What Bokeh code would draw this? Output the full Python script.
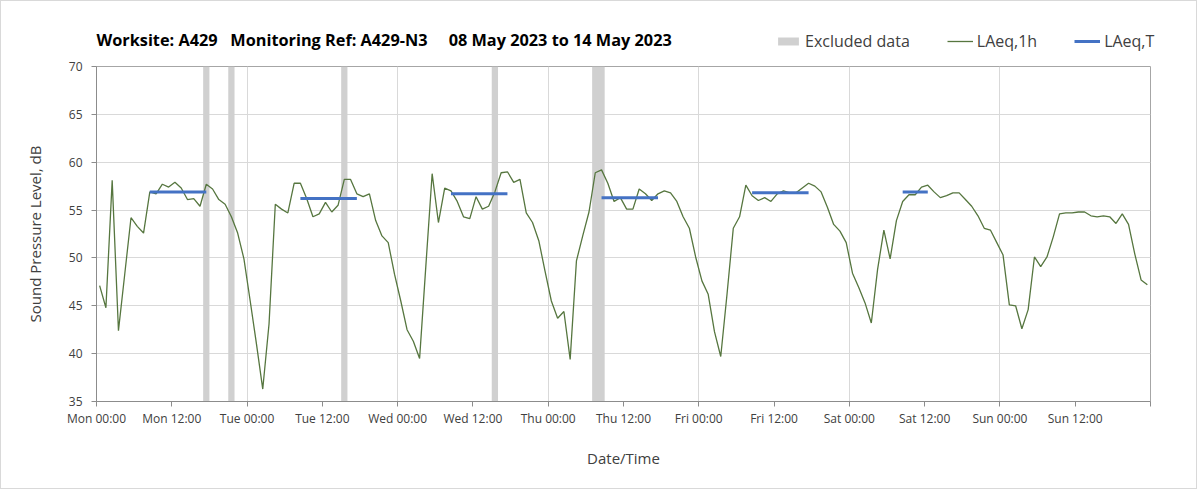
from bokeh.plotting import figure
from bokeh.layouts import column
from bokeh.models import FixedTicker, Legend, LegendItem, Range1d, ColumnDataSource, Label
from bokeh.embed import file_html
from bokeh.resources import INLINE

# ---------------- data ----------------
# Hourly LAeq,1h values (dB) per day, hour 00..23
mon = [47.1, 44.8, 58.1, 42.4, 48.3, 54.2, 53.3, 52.6, 56.9, 56.7, 57.7, 57.4,
       57.9, 57.3, 56.1, 56.2, 55.4, 57.7, 57.2, 56.1, 55.6, 54.3, 52.6, 49.9]
tue = [45.5, 41.0, 36.3, 43.1, 55.6, 55.1, 54.7, 57.8, 57.8, 56.2, 54.3, 54.6,
       55.8, 54.8, 55.5, 58.2, 58.2, 56.7, 56.4, 56.7, 53.9, 52.3, 51.6, 48.3]
wed = [45.5, 42.5, 41.3, 39.5, 49.2, 58.8, 53.7, 57.3, 57.0, 55.9, 54.3, 54.1,
       56.4, 55.1, 55.4, 56.9, 58.9, 59.0, 57.9, 58.2, 54.7, 53.7, 51.8, 48.6]
thu = [45.5, 43.7, 44.4, 39.4, 49.7, 52.3, 54.8, 58.9, 59.2, 57.8, 55.9, 56.3,
       55.1, 55.1, 57.2, 56.7, 56.0, 56.7, 57.0, 56.8, 55.9, 54.3, 53.1, 50.1]
fri = [47.6, 46.2, 42.3, 39.7, 46.2, 53.1, 54.3, 57.6, 56.5, 56.0, 56.3, 55.9,
       56.7, 57.0, 56.8, 56.8, 57.3, 57.8, 57.5, 56.9, 55.3, 53.5, 52.8, 51.6]
sat = [48.4, 46.9, 45.3, 43.2, 48.8, 52.9, 49.9, 53.9, 55.9, 56.6, 56.6, 57.4,
       57.6, 56.9, 56.3, 56.5, 56.8, 56.8, 56.1, 55.4, 54.4, 53.1, 52.9, 51.6]
sun = [50.3, 45.1, 45.0, 42.6, 44.6, 50.1, 49.1, 50.1, 52.2, 54.6, 54.7, 54.7,
       54.8, 54.8, 54.4, 54.3, 54.4, 54.3, 53.6, 54.6, 53.5, 50.4, 47.7, 47.2]

laeq_1h = mon + tue + wed + thu + fri + sat + sun
hour_mid = [h + 0.5 for h in range(len(laeq_1h))]   # hours since Mon 00:00 (mid-hour)

# Excluded data periods (hours since Mon 00:00)
excl_start = [17, 21, 39, 63, 79]
excl_end = [18, 22, 40, 64, 81]

# LAeq,T periods and values
laeqT_start = [8.5, 32.5, 56.5, 80.5, 104.5, 128.5]
laeqT_end = [17.5, 41.5, 65.5, 89.5, 113.5, 132.5]
laeqT_value = [56.9, 56.2, 56.7, 56.3, 56.8, 56.9]

tick_hours = list(range(0, 169, 12))
tick_labels = ["Mon 00:00", "Mon 12:00", "Tue 00:00", "Tue 12:00", "Wed 00:00",
               "Wed 12:00", "Thu 00:00", "Thu 12:00", "Fri 00:00", "Fri 12:00",
               "Sat 00:00", "Sat 12:00", "Sun 00:00", "Sun 12:00", ""]
day_lines = list(range(24, 169, 24))
y_ticks = [35, 40, 45, 50, 55, 60, 65, 70]

NB = "\u00a0"
TITLE = ("Worksite: A429" + NB * 3 + "Monitoring Ref: A429-N3" + NB * 5 +
         "08 May 2023 to 14 May 2023")

FONT = "Open Sans"
TXT = "#404040"
AXC = "#8c8c8c"
GRID = "#d9d9d9"
C_EXCL = "#d0d0d0"
C_1H = "#56763f"
C_T = "#4472c4"

W = 1195
HEAD_H = 56
MAIN_H = 431
FRAME_L, FRAME_R = 95, 1149      # frame edges of the main chart (content pixels)

# ---------------- main chart ----------------
p = figure(width=W, height=MAIN_H, x_range=Range1d(0, 168), y_range=Range1d(35, 70),
           output_backend="svg", toolbar_location=None,
           min_border_left=FRAME_L, min_border_right=W - FRAME_R, min_border_top=9,
           min_border_bottom=87)

# ---------------- header (title + legend) ----------------
head = figure(width=W, height=HEAD_H, y_range=Range1d(HEAD_H, 0),
              x_axis_type=None, y_axis_type=None, output_backend="svg",
              toolbar_location=None, min_border=0)

unaligned = True
try:
    head.frame_align = False
    p.frame_align = False
except Exception:
    unaligned = False

if unaligned:
    head.x_range = Range1d(0, W)
    head_frame_left = 0
else:
    head.x_range = Range1d(FRAME_L, FRAME_R)
    head_frame_left = FRAME_L

head.outline_line_color = None
head.background_fill_color = "white"
head.border_fill_color = "white"

head.add_layout(Label(x=FRAME_L, y=38, text=TITLE, text_baseline="middle",
                      text_font=FONT, text_font_size="16.3px", text_font_style="bold",
                      text_color="black"))

# legend swatches: hidden renderers styled like the chart's renderers
h_excl = head.quad(left=[0], right=[0], bottom=[0], top=[0],
                   fill_color=C_EXCL, line_color=None, visible=False)
h_1h = head.line(x=[0, 0], y=[0, 0], line_color=C_1H, line_width=1.3, visible=False)
h_t = head.line(x=[0, 0], y=[0, 0], line_color=C_T, line_width=3, visible=False)
legend = Legend(items=[LegendItem(label="Excluded data", renderers=[h_excl]),
                       LegendItem(label="LAeq,1h", renderers=[h_1h]),
                       LegendItem(label="LAeq,T", renderers=[h_t])],
                orientation="horizontal", location=(774 - head_frame_left, 5),
                border_line_color=None, background_fill_alpha=0, padding=0, margin=0,
                spacing=37, glyph_width=26, glyph_height=10, label_standoff=4,
                inactive_fill_alpha=0,
                label_text_font=FONT, label_text_font_size="16px", label_text_color=TXT)
head.add_layout(legend)

p.outline_line_color = "#a6a6a6"
p.background_fill_color = "white"
p.border_fill_color = "white"

excl_src = ColumnDataSource(dict(left=excl_start, right=excl_end,
                                 bottom=[35] * len(excl_start), top=[70] * len(excl_start)))
p.quad(left="left", right="right", bottom="bottom", top="top", source=excl_src,
       fill_color=C_EXCL, line_color=None)

line_src = ColumnDataSource(dict(x=hour_mid, y=laeq_1h))
p.line("x", "y", source=line_src, line_color=C_1H, line_width=1.3)

t_src = ColumnDataSource(dict(x0=laeqT_start, x1=laeqT_end, y=laeqT_value))
p.segment(x0="x0", y0="y", x1="x1", y1="y", source=t_src, line_color=C_T, line_width=3)

# axes
p.xaxis.ticker = FixedTicker(ticks=tick_hours)
p.xaxis.major_label_overrides = {h: lab for h, lab in zip(tick_hours, tick_labels)}
p.yaxis.ticker = FixedTicker(ticks=y_ticks)
for ax in (p.xaxis[0], p.yaxis[0]):
    ax.axis_line_color = AXC
    ax.major_tick_line_color = AXC
    ax.major_tick_out = 5
    ax.major_tick_in = 0
    ax.minor_tick_line_color = None
    ax.major_label_text_font = FONT
    ax.major_label_text_font_size = "12px"
    ax.major_label_text_color = TXT
    ax.axis_label_text_font = FONT
    ax.axis_label_text_font_size = "15px"
    ax.axis_label_text_font_style = "normal"
    ax.axis_label_text_color = TXT
p.xaxis.major_label_standoff = 3
p.yaxis.major_label_standoff = 9
p.xaxis.axis_label = "Date/Time"
p.yaxis.axis_label = "Sound Pressure Level, dB"
p.xaxis.axis_label_standoff = 18
p.yaxis.axis_label_standoff = 21

p.ygrid.grid_line_color = GRID
p.ygrid.ticker = FixedTicker(ticks=y_ticks)
p.xgrid.grid_line_color = GRID
p.xgrid.ticker = FixedTicker(ticks=day_lines)

layout = column(head, p, spacing=0, styles={"border": "1px solid #d9d9d9"})
open("out.html", "w").write(file_html(layout, INLINE))
